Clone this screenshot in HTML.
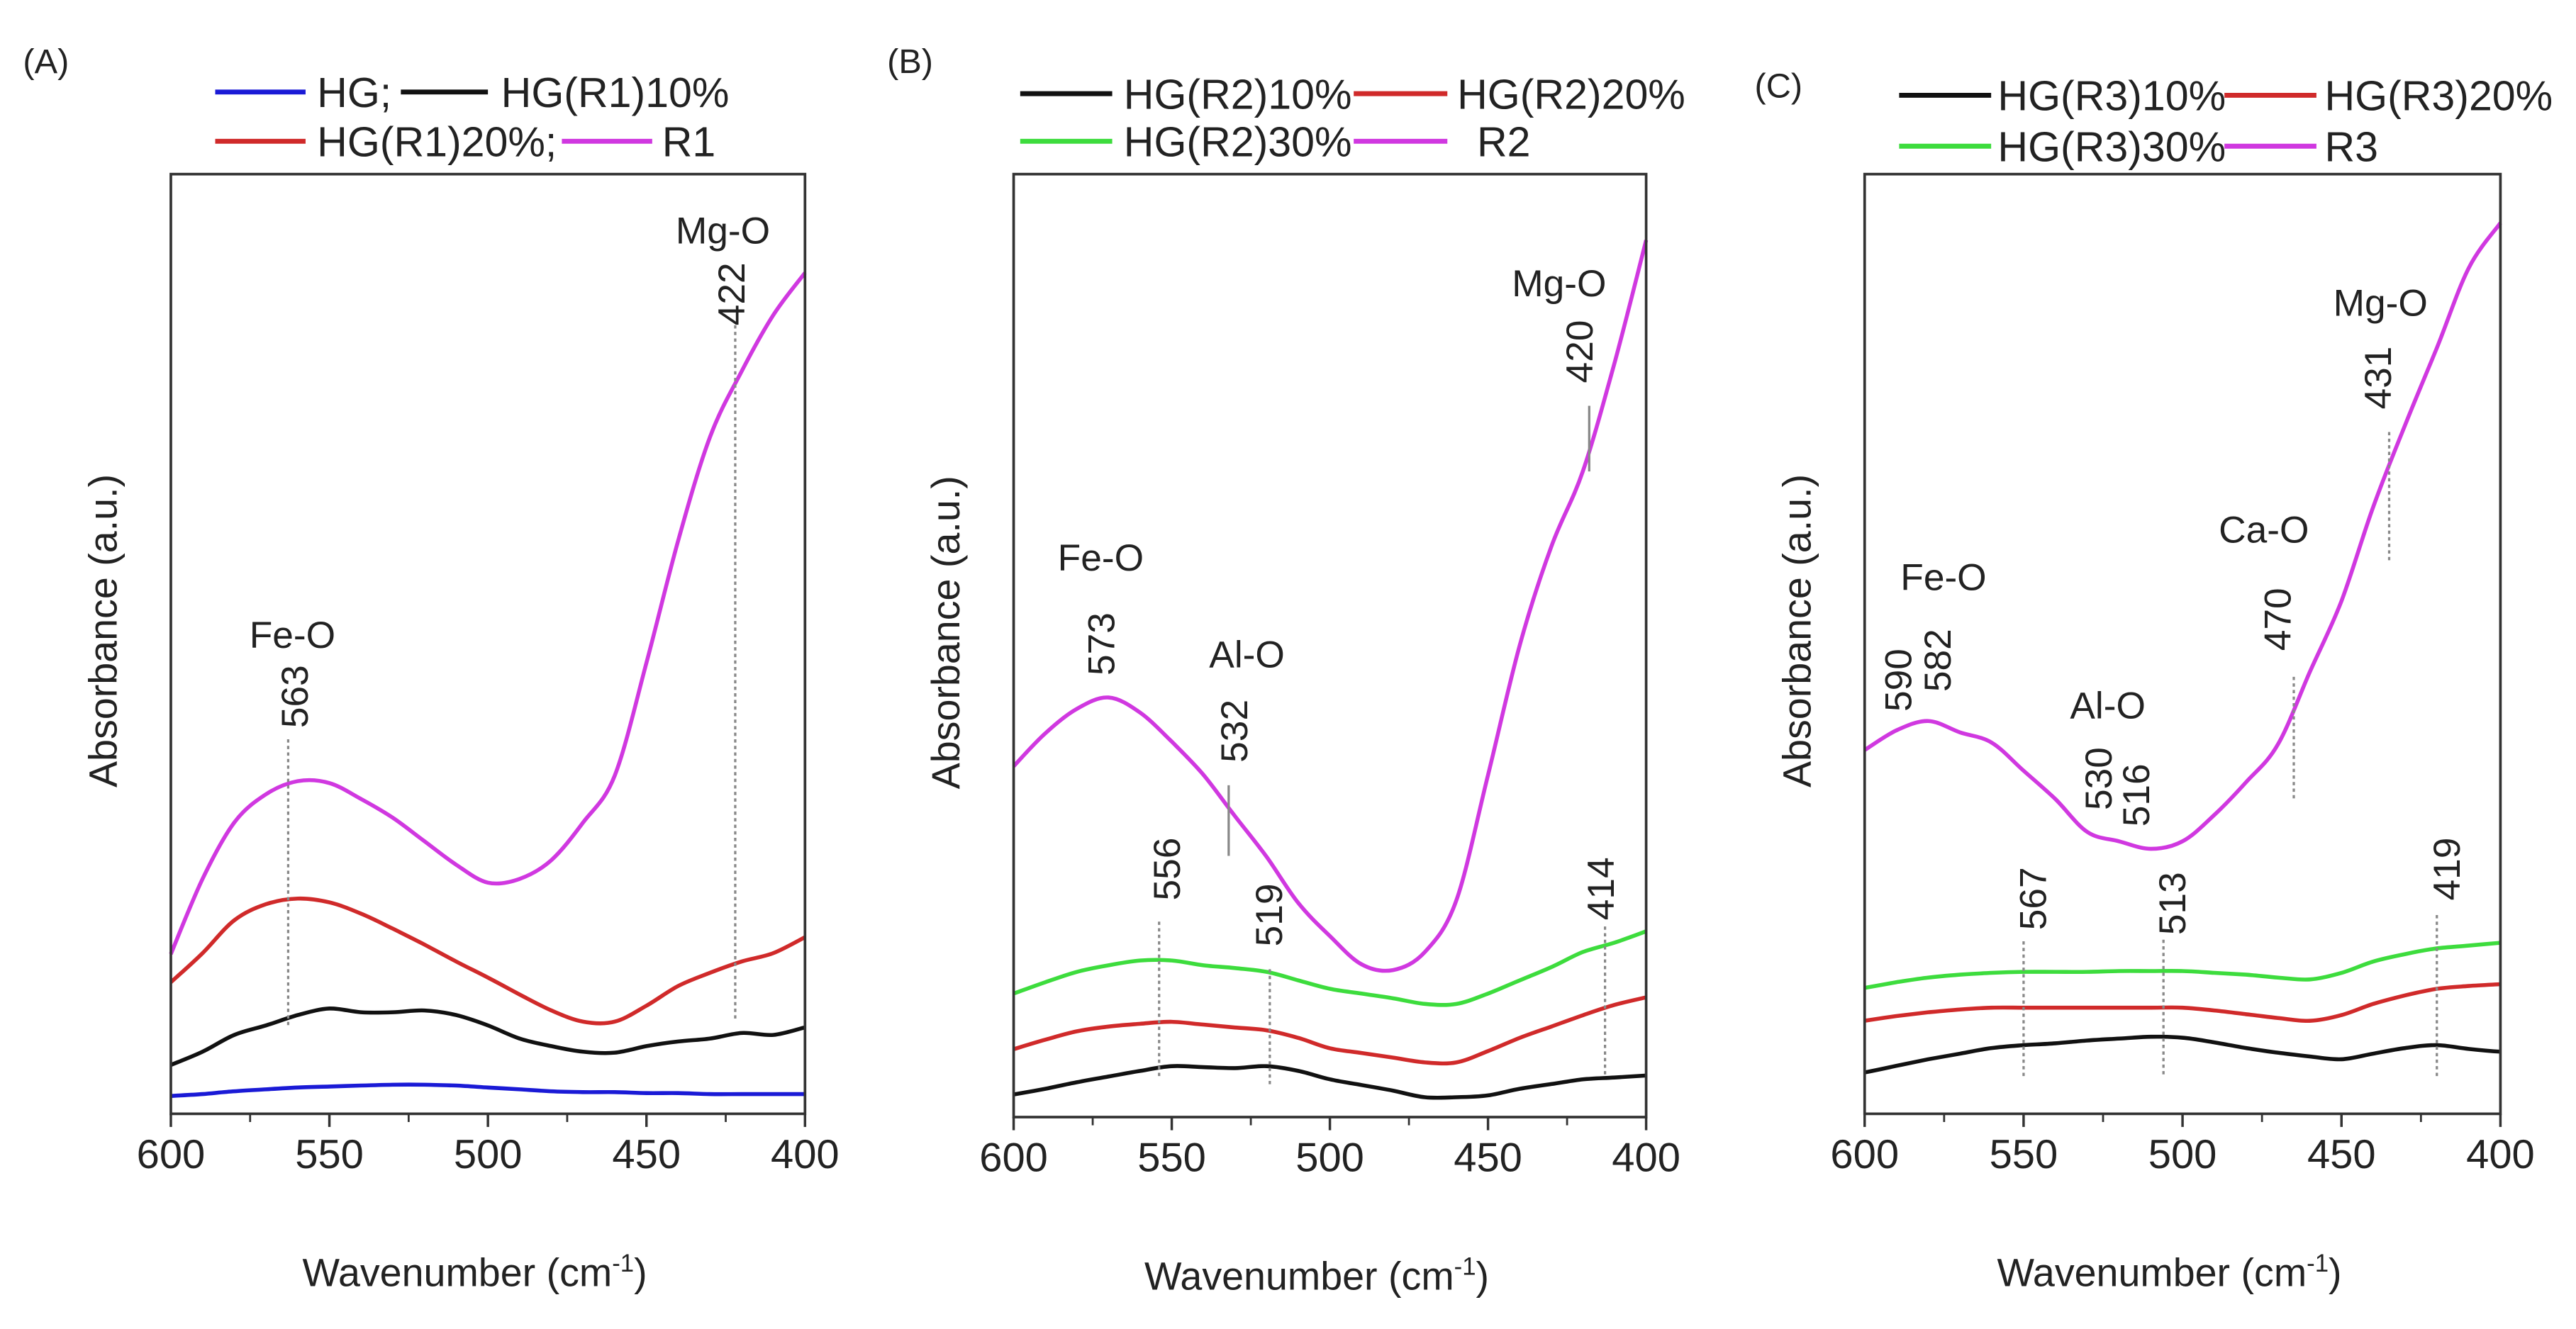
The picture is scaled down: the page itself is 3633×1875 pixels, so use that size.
<!DOCTYPE html>
<html><head><meta charset="utf-8"><style>
html,body{margin:0;padding:0;background:#fff}
svg{display:block}
text{font-family:"Liberation Sans",sans-serif;fill:#222}
</style></head><body>
<svg id="fig" width="3633" height="1875" viewBox="0 0 1568 809" preserveAspectRatio="none" xmlns="http://www.w3.org/2000/svg"></svg>
<script>
// Shared x grid (wavenumber, cm-1)
const waves = [600,590,580,570,560,550,540,530,520,510,500,490,480,470,460,450,440,430,420,410,400];
const xTicks = [600,550,500,450,400];
const xMinor = [575,525,475,425];

// Panel A values (relative absorbance, 0-100 of plot height)
const aHG   = [1.9,2.1,2.4,2.6,2.8,2.9,3.0,3.1,3.1,3.0,2.8,2.6,2.4,2.3,2.3,2.2,2.2,2.1,2.1,2.1,2.1];
const aR1_10= [5.2,6.6,8.4,9.4,10.5,11.2,10.8,10.8,11.0,10.5,9.4,8.0,7.2,6.6,6.5,7.2,7.7,8.0,8.6,8.4,9.2];
const aR1_20= [14,17.1,20.6,22.3,22.9,22.5,21.3,19.7,18.0,16.2,14.5,12.7,11.0,9.8,9.8,11.5,13.6,15.0,16.2,17.1,18.8];
const aR1   = [17,25,31,34,35.4,35.2,33.5,31.5,29,26.5,24.6,25,27,31,36,48,61,72,79,85,89.5];

// Panel B values
const bR2_10= [2.4,3.0,3.7,4.3,4.9,5.4,5.3,5.2,5.4,4.9,4.0,3.4,2.8,2.1,2.1,2.3,3.0,3.5,4.0,4.2,4.4];
const bR2_20= [7.2,8.2,9.1,9.6,9.9,10.1,9.8,9.5,9.2,8.4,7.3,6.8,6.3,5.8,5.8,7.0,8.4,9.6,10.8,11.9,12.7];
const bR2_30= [13.1,14.3,15.4,16.1,16.6,16.6,16.1,15.8,15.4,14.5,13.6,13.1,12.6,12.0,12.0,13.1,14.5,15.9,17.5,18.5,19.7];
const bR2   = [37.2,40.7,43.3,44.5,42.9,39.8,36.3,31.9,27.6,22.7,19.2,16.2,15.6,17.5,23,36.3,50,60.5,68.5,80,93];

// Panel C values
const cR3_10= [4.4,5.1,5.8,6.4,7.0,7.3,7.5,7.8,8.0,8.2,8.1,7.6,7.0,6.5,6.1,5.8,6.4,7.0,7.3,6.9,6.6];
const cR3_20= [9.9,10.4,10.8,11.1,11.3,11.3,11.3,11.3,11.3,11.3,11.3,11.0,10.6,10.2,9.9,10.5,11.7,12.6,13.3,13.6,13.8];
const cR3_30= [13.4,14.0,14.5,14.8,15.0,15.1,15.1,15.1,15.2,15.2,15.2,15.0,14.8,14.5,14.3,15.0,16.2,17.0,17.6,17.9,18.2];
const cR3   = [38.7,40.8,41.8,40.6,39.5,36.5,33.5,30,29,28.2,29,31.8,35.3,39.3,47,54.6,64.6,73.3,81.5,90,94.8];

const C = {blue:'#1a1ad6',black:'#111',red:'#d02a2a',mag:'#d038e0',green:'#3ddc3d'};
const NS='http://www.w3.org/2000/svg';
const svg=document.getElementById('fig');
function el(tag,attrs,parent){const e=document.createElementNS(NS,tag);for(const k in attrs)e.setAttribute(k,attrs[k]);(parent||svg).appendChild(e);return e;}
function txt(s,attrs,parent){const e=el('text',attrs,parent);e.textContent=s;return e;}
function smooth(pts){let d='M'+pts[0][0]+','+pts[0][1];for(let i=0;i<pts.length-1;i++){const p0=pts[i-1]||pts[i],p1=pts[i],p2=pts[i+1],p3=pts[i+2]||p2;
 const c1=[p1[0]+(p2[0]-p0[0])/6,p1[1]+(p2[1]-p0[1])/6],c2=[p2[0]-(p3[0]-p1[0])/6,p2[1]-(p3[1]-p1[1])/6];
 d+=' C'+c1[0].toFixed(1)+','+c1[1].toFixed(1)+' '+c2[0].toFixed(1)+','+c2[1].toFixed(1)+' '+p2[0].toFixed(1)+','+p2[1].toFixed(1);}return d;}

function panel(P){
  const g=el('g',{});
  
  
  const xs=w=>P.x0+(600-w)*(P.x1-P.x0)/200;
  const ys=v=>P.y1-v*(P.y1-P.y0)/100;
  P.series.forEach(s=>{
    const p=el('path',{d:smooth(waves.map((w,i)=>[xs(w),ys(s.v[i])])),fill:'none',stroke:s.c,'stroke-width':2.4,'stroke-linejoin':'round'},g);
    
    
  });
  const f=el('rect',{x:P.x0,y:P.y0,width:P.x1-P.x0,height:P.y1-P.y0,fill:'none',stroke:'#333','stroke-width':1.6},g);
  
  
  xTicks.forEach(t=>{el('line',{x1:xs(t),x2:xs(t),y1:P.y1,y2:P.y1+8,stroke:'#333','stroke-width':1.5},g);
    const l=txt(String(t),{x:xs(t),y:P.y1+33,'font-size':25,'text-anchor':'middle'},g);
    
    });
  xMinor.forEach(t=>el('line',{x1:xs(t),x2:xs(t),y1:P.y1,y2:P.y1+5,stroke:'#333','stroke-width':1.2},g));
  const xl=txt('Wavenumber (cm',{x:(P.x0+P.x1)/2-8,y:P.y1+105,'font-size':24,'text-anchor':'middle'},g);
  const sup=el('tspan',{dy:-9,'font-size':15},xl);sup.textContent='-1';
  const cl=el('tspan',{dy:9},xl);cl.textContent=')';
  
  
  const yl=txt('Absorbance (a.u.)',{x:0,y:0,'font-size':24,'text-anchor':'middle',transform:`translate(${P.x0-33},${(P.y0+P.y1)/2-8}) rotate(-90)`},g);
  
  
  const pl=txt(P.label,{x:P.lx,y:P.ly,'font-size':21,dy:'0.35em'},g);
  
  
  P.legend.forEach(L=>{
    const lg=el('g',{},g);
    
    
    el('line',{x1:L.x1,x2:L.x2,y1:L.y,y2:L.y,stroke:L.c,'stroke-width':3},lg);
    txt(L.t,{x:L.tx,y:L.y,dy:'0.36em','font-size':25.5},lg);
  });
  P.dots.forEach(d=>{
    const ln=el('line',{x1:xs(d.w),x2:xs(d.w),y1:d.ya,y2:d.yb,stroke:'#888','stroke-width':1.4,'stroke-dasharray':d.solid?'none':'2,2'},g);
    
    
  });
  P.nums.forEach(n=>{
    const t=txt(n.t,{x:0,y:0,dy:'0.36em','font-size':23,'text-anchor':'middle',transform:`translate(${n.x},${n.y}) rotate(-90)`},g);
    
    
  });
  P.bands.forEach(b=>{
    const t=txt(b.t,{x:b.x,y:b.y,dy:'0.36em','font-size':23,'text-anchor':'middle'},g);
    
    
  });
}

panel({name:'panel-a',label:'(A)',lx:14,ly:37,x0:104,x1:490,y0:106,y1:678,
 series:[{id:'line-hg',v:aHG,c:C.blue},{id:'line-hg-r1-10',v:aR1_10,c:C.black},{id:'line-hg-r1-20',v:aR1_20,c:C.red},{id:'line-r1',v:aR1,c:C.mag}],
 legend:[{x1:131,x2:186,y:56,c:C.blue,t:'HG;',tx:193},{x1:244,x2:297,y:56,c:C.black,t:'HG(R1)10%',tx:305},
         {x1:131,x2:186,y:86,c:C.red,t:'HG(R1)20%;',tx:193},{x1:342,x2:397,y:86,c:C.mag,t:'R1',tx:403}],
 dots:[{w:563,ya:450,yb:625},{w:422,ya:198,yb:622}],
 nums:[{t:'563',x:179,y:424},{t:'422',x:445,y:179}],
 bands:[{t:'Fe-O',x:178,y:386},{t:'Mg-O',x:440,y:140}]});

panel({name:'panel-b',label:'(B)',lx:540,ly:37,x0:617,x1:1002,y0:106,y1:680,
 series:[{id:'line-hg-r2-10',v:bR2_10,c:C.black},{id:'line-hg-r2-20',v:bR2_20,c:C.red},{id:'line-hg-r2-30',v:bR2_30,c:C.green},{id:'line-r2',v:bR2,c:C.mag}],
 legend:[{x1:621,x2:677,y:57,c:C.black,t:'HG(R2)10%',tx:684},{x1:824,x2:881,y:57,c:C.red,t:'HG(R2)20%',tx:887},
         {x1:621,x2:677,y:86,c:C.green,t:'HG(R2)30%',tx:684},{x1:824,x2:881,y:86,c:C.mag,t:'R2',tx:899}],
 dots:[{w:554,ya:561,yb:657},{w:519,ya:590,yb:662},{w:413,ya:564,yb:655},{w:532,ya:478,yb:521,solid:true},{w:418,ya:247,yb:287,solid:true}],
 nums:[{t:'573',x:670,y:392},{t:'532',x:751,y:445},{t:'556',x:710,y:529},{t:'519',x:772,y:557},{t:'414',x:974,y:541},{t:'420',x:961,y:214}],
 bands:[{t:'Fe-O',x:670,y:339},{t:'Al-O',x:759,y:398},{t:'Mg-O',x:949,y:172}]});

panel({name:'panel-c',label:'(C)',lx:1068,ly:52,x0:1135,x1:1522,y0:106,y1:678,
 series:[{id:'line-hg-r3-10',v:cR3_10,c:C.black},{id:'line-hg-r3-20',v:cR3_20,c:C.red},{id:'line-hg-r3-30',v:cR3_30,c:C.green},{id:'line-r3',v:cR3,c:C.mag}],
 legend:[{x1:1156,x2:1212,y:58,c:C.black,t:'HG(R3)10%',tx:1216},{x1:1354,x2:1410,y:58,c:C.red,t:'HG(R3)20%',tx:1415},
         {x1:1156,x2:1212,y:89,c:C.green,t:'HG(R3)30%',tx:1216},{x1:1354,x2:1410,y:89,c:C.mag,t:'R3',tx:1415}],
 dots:[{w:550,ya:573,yb:657},{w:506,ya:572,yb:656},{w:420,ya:557,yb:657},{w:465,ya:412,yb:488},{w:435,ya:263,yb:341}],
 nums:[{t:'590',x:1155,y:414},{t:'582',x:1179,y:402},{t:'530',x:1277,y:474},{t:'516',x:1300,y:484},{t:'567',x:1237,y:547},{t:'513',x:1322,y:550},{t:'419',x:1489,y:529},{t:'470',x:1386,y:377},{t:'431',x:1447,y:230}],
 bands:[{t:'Fe-O',x:1183,y:351},{t:'Al-O',x:1283,y:429},{t:'Ca-O',x:1378,y:322},{t:'Mg-O',x:1449,y:184}]});
</script>
</body></html>
